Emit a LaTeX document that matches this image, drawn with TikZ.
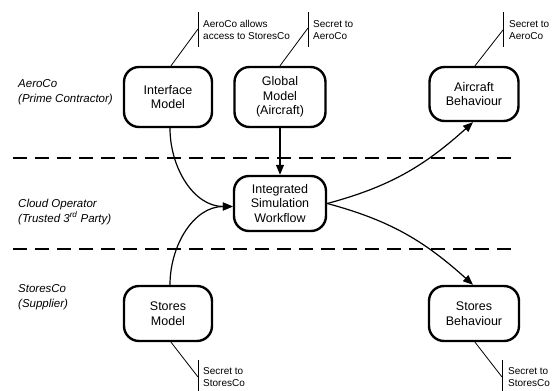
\documentclass[tikz,border=0pt]{standalone}
\usepackage{fontspec}
\setmainfont{Liberation Sans}
\usetikzlibrary{arrows.meta,calc}
\begin{document}
\begin{tikzpicture}[x=1pt,y=1pt,
  box/.style={draw,line width=2.4pt,rounded corners=15pt,align=center,inner sep=2pt,
    font=\fontsize{12.5}{14.5}\selectfont},
  lane/.style={draw,line width=2.4pt,dash pattern=on 14pt off 8pt},
  party/.style={anchor=west,align=left,inner sep=0pt,font=\fontsize{11.5}{14.5}\selectfont\itshape},
  note/.style={anchor=west,align=left,inner sep=0pt,font=\fontsize{10}{11.8}\selectfont},
  noteline/.style={line width=0.8pt},
  flow/.style={line width=1.2pt,-{Triangle[length=10pt,width=8pt]}}]
\useasboundingbox (0,0) rectangle (558,391);
% swimlane separators
\coordinate (l1a) at (13,233); \coordinate (l1b) at (512,233);
\coordinate (l2a) at (13,142); \coordinate (l2b) at (512,142);
\draw[lane] (l1a) -- (l1b);
\draw[lane] (l2a) -- (l2b);
% party labels
\node[party] (p1) at (18,299) {AeroCo\\(Prime Contractor)};
\node[party] (p2) at (18,179) {Cloud Operator\\(Trusted 3\textsuperscript{rd} Party)};
\node[party] (p3) at (18,94) {StoresCo\\(Supplier)};
% boxes
\node[box,minimum width=88pt,minimum height=60pt] (iface) at (168,294) {Interface\\Model};
\node[box,minimum width=91pt,minimum height=60pt] (global) at (280,294) {Global\\Model\\(Aircraft)};
\node[box,minimum width=89pt,minimum height=54pt] (aircraft) at (474,297) {Aircraft\\Behaviour};
\node[box,minimum width=92pt,minimum height=55pt] (integ) at (280,187.5) {Integrated\\Simulation\\Workflow};
\node[box,minimum width=88pt,minimum height=55pt] (smodel) at (168,77.5) {Stores\\Model};
\node[box,minimum width=90pt,minimum height=55pt] (sbeh) at (474,77.5) {Stores\\Behaviour};
% flows
\coordinate (inpt) at ($(integ.west)+(0,-3)$);
\draw[flow] ([xshift=2pt]iface.south) to[out=-90,in=180] (inpt);
\draw[flow] ([xshift=2pt]smodel.north) to[out=90,in=180] (inpt);
\draw[flow] (global.south) -- (integ.north);
\draw[flow] (integ.east) to[out=15,in=-138] ([xshift=-1pt]aircraft.south);
\draw[flow] (integ.east) to[out=-15,in=138] ([xshift=-1pt]sbeh.north);
% callouts
\coordinate (v1a) at (198,379); \coordinate (v1b) at (198,344); \coordinate (d1) at (198,362);
\draw[noteline] (v1a) -- (v1b);
\draw[noteline] ([xshift=3pt]iface.north) -- (d1);
\node[note] (n1) at (203,361) {AeroCo allows\\access to StoresCo};
\coordinate (v2a) at (308,379); \coordinate (v2b) at (308,344); \coordinate (d2) at (308,363);
\draw[noteline] (v2a) -- (v2b);
\draw[noteline] (global.north) -- (d2);
\node[note] (n2) at (313,361) {Secret to\\AeroCo};
\coordinate (v3a) at (503,379); \coordinate (v3b) at (503,344); \coordinate (d3) at (503,361);
\draw[noteline] (v3a) -- (v3b);
\draw[noteline] ([xshift=1pt]aircraft.north) -- (d3);
\node[note] (n3) at (509,361) {Secret to\\AeroCo};
\coordinate (v4a) at (198,31); \coordinate (v4b) at (198,0); \coordinate (d4) at (198,14);
\draw[noteline] (v4a) -- (v4b);
\draw[noteline] ([xshift=3pt]smodel.south) -- (d4);
\node[note] (n4) at (203,14) {Secret to\\StoresCo};
\coordinate (v5a) at (502,31); \coordinate (v5b) at (502,0); \coordinate (d5) at (502,14);
\draw[noteline] (v5a) -- (v5b);
\draw[noteline] ([xshift=1pt]sbeh.south) -- (d5);
\node[note] (n5) at (508,14) {Secret to\\StoresCo};
\end{tikzpicture}
\end{document}
